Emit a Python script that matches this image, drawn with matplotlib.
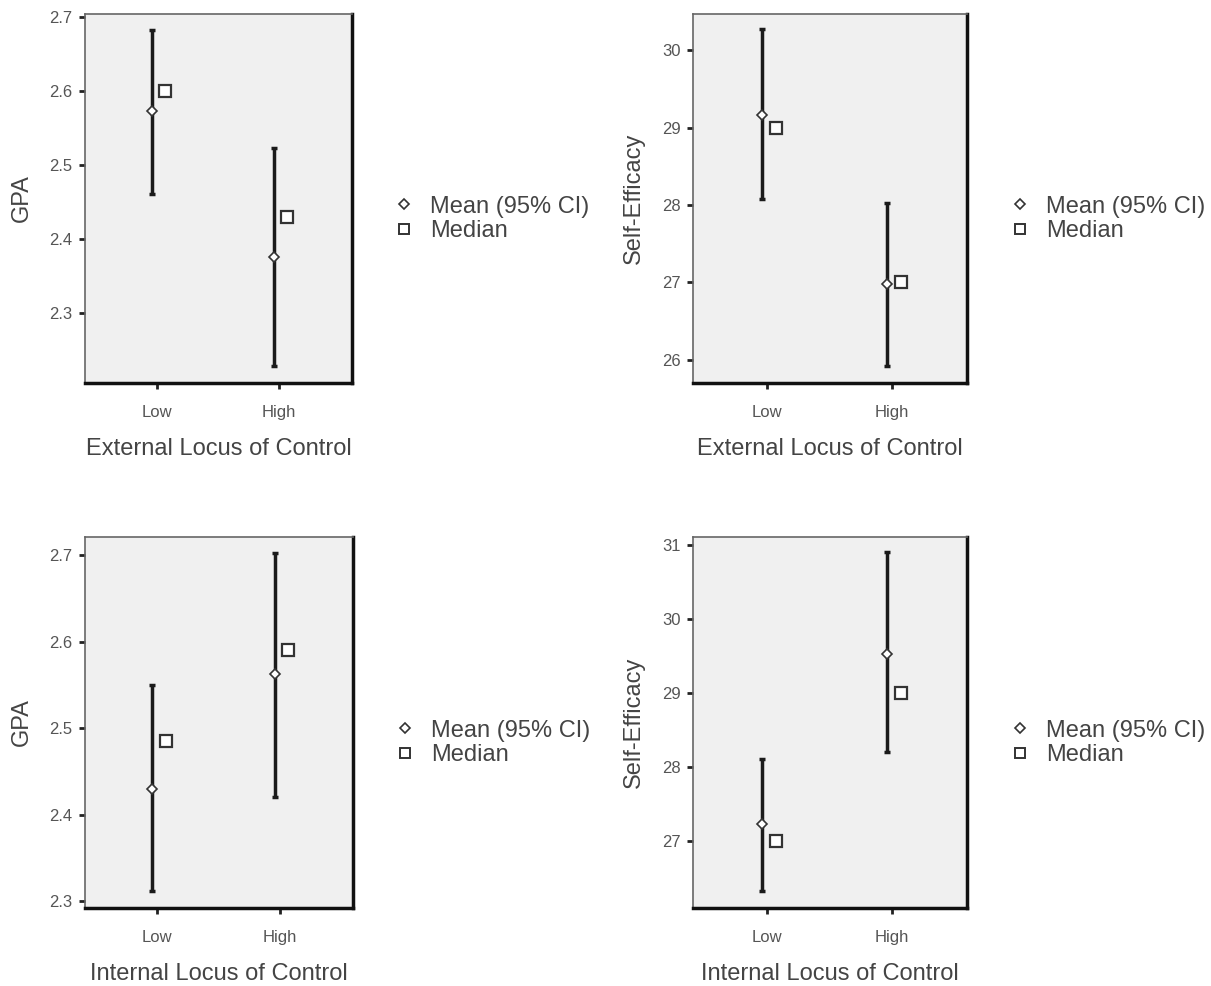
import numpy as np
import matplotlib.pyplot as plt
from matplotlib.lines import Line2D

plt.rcParams['font.family'] = ['Liberation Sans', 'DejaVu Sans']

groups = ["Low", "High"]

# top-left: GPA by external locus
gpa_ext_mean = [2.573, 2.375]
gpa_ext_lo = [2.460, 2.228]
gpa_ext_hi = [2.683, 2.523]
gpa_ext_median = [2.600, 2.430]

# top-right: self-efficacy by external locus
se_ext_mean = [29.17, 26.98]
se_ext_lo = [28.08, 25.92]
se_ext_hi = [30.28, 28.03]
se_ext_median = [29.0, 27.0]

# bottom-left: GPA by internal locus
gpa_int_mean = [2.430, 2.562]
gpa_int_lo = [2.312, 2.420]
gpa_int_hi = [2.550, 2.702]
gpa_int_median = [2.485, 2.590]

# bottom-right: self-efficacy by internal locus
se_int_mean = [27.22, 29.53]
se_int_lo = [26.32, 28.20]
se_int_hi = [28.10, 30.90]
se_int_median = [27.0, 29.0]

panels = [
    dict(pos=[0.0702, 0.6116, 0.2205, 0.3742], mean=gpa_ext_mean, lo=gpa_ext_lo, hi=gpa_ext_hi,
         med=gpa_ext_median, ylabel="GPA", xlabel="External Locus of Control",
         ylim=(2.205, 2.704), yticks=[2.3, 2.4, 2.5, 2.6, 2.7], fmt="{:.1f}"),
    dict(pos=[0.5723, 0.6116, 0.2263, 0.3742], mean=se_ext_mean, lo=se_ext_lo, hi=se_ext_hi,
         med=se_ext_median, ylabel="Self-Efficacy", xlabel="External Locus of Control",
         ylim=(25.70, 30.47), yticks=[26, 27, 28, 29, 30], fmt="{:.0f}"),
    dict(pos=[0.0702, 0.0791, 0.2213, 0.3763], mean=gpa_int_mean, lo=gpa_int_lo, hi=gpa_int_hi,
         med=gpa_int_median, ylabel="GPA", xlabel="Internal Locus of Control",
         ylim=(2.292, 2.721), yticks=[2.3, 2.4, 2.5, 2.6, 2.7], fmt="{:.1f}"),
    dict(pos=[0.5723, 0.0791, 0.2263, 0.3763], mean=se_int_mean, lo=se_int_lo, hi=se_int_hi,
         med=se_int_median, ylabel="Self-Efficacy", xlabel="Internal Locus of Control",
         ylim=(26.09, 31.11), yticks=[27, 28, 29, 30, 31], fmt="{:.0f}"),
]

fig = plt.figure(figsize=(12.11, 9.86), dpi=100)

x = np.arange(len(groups))
for p in panels:
    ax = fig.add_axes(p["pos"])
    ax.set_facecolor("#f0f0f0")
    mean = np.array(p["mean"])
    err = [mean - np.array(p["lo"]), np.array(p["hi"]) - mean]
    ax.errorbar(x - 0.04, mean, yerr=err, fmt="none", ecolor="#1a1a1a",
                elinewidth=2.5, capsize=2.5, capthick=2.5, zorder=2)
    ax.plot(x - 0.04, mean, linestyle="none", marker="D", markersize=5.5,
            markerfacecolor="white", markeredgecolor="#333333", markeredgewidth=1.2, zorder=3)
    ax.plot(x + 0.07, p["med"], linestyle="none", marker="s", markersize=8.5,
            markerfacecolor="white", markeredgecolor="#333333", markeredgewidth=1.6, zorder=3)
    ax.set_xlim(-0.59, 1.6)
    ax.set_ylim(*p["ylim"])
    ax.set_xticks(x)
    ax.set_xticklabels(groups)
    ax.set_yticks(p["yticks"])
    ax.set_yticklabels([p["fmt"].format(v) for v in p["yticks"]])
    ax.tick_params(axis="both", labelsize=12, labelcolor="#555555", color="#222222",
                   length=4, width=2)
    ax.tick_params(axis="x", pad=12)
    ax.tick_params(axis="y", pad=5)
    for side in ["left", "top"]:
        ax.spines[side].set_color("#666666")
        ax.spines[side].set_linewidth(1.2)
    for side in ["bottom", "right"]:
        ax.spines[side].set_color("#111111")
        ax.spines[side].set_linewidth(2.5)
    ax.set_xlabel(p["xlabel"], fontsize=17, color="#444444", labelpad=13)
    ax.set_ylabel(p["ylabel"], fontsize=17, color="#444444", labelpad=12)

    handles = [
        Line2D([], [], linestyle="none", marker="D", markersize=5, markerfacecolor="white",
               markeredgecolor="#333333", markeredgewidth=1.2),
        Line2D([], [], linestyle="none", marker="s", markersize=7, markerfacecolor="white",
               markeredgecolor="#333333", markeredgewidth=1.4),
    ]
    leg = ax.legend(handles, ["Mean (95% CI)", "Median"], loc="center left",
                    bbox_to_anchor=(1.08, 0.445), frameon=False, fontsize=17,
                    handlelength=0.8, handletextpad=0.7, labelspacing=0.1)
    for t in leg.get_texts():
        t.set_color("#444444")

fig.savefig("out.png", dpi=100)
